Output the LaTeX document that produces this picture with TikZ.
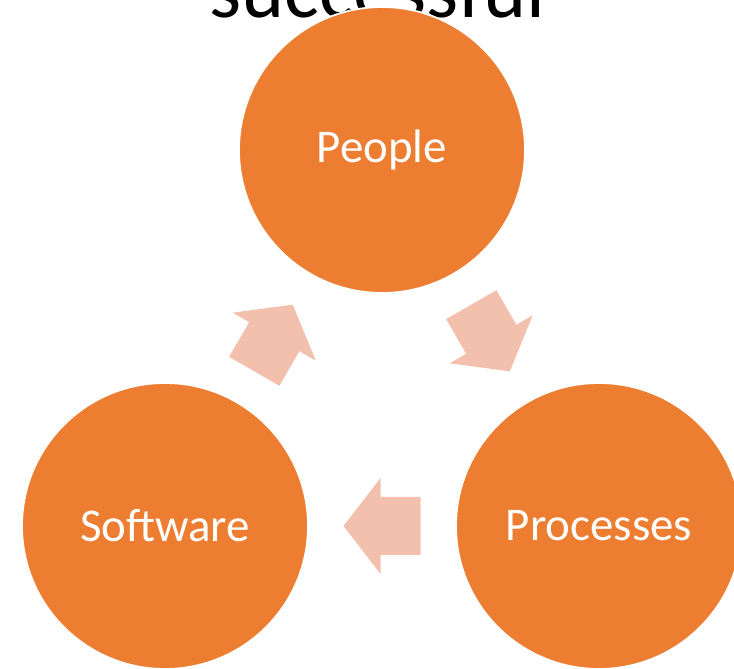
\documentclass[tikz,border=0pt]{standalone}
\usepackage{fontspec}
\setmainfont{Carlito}
\usetikzlibrary{calc}

\definecolor{partfill}{HTML}{ED7D31}
\definecolor{arrowfill}{HTML}{F4C0AE}

% block arrow at a named point, turned by an angle
\newcommand{\blockarrow}[2]{%
  \fill[arrowfill, shift={(#1)}, rotate=#2]
    (-38.5,-29) -- (1.5,-29) -- (1.5,-48) -- (38.5,0)
    -- (1.5,48) -- (1.5,29) -- (-38.5,29) -- cycle;}

\begin{document}
\begin{tikzpicture}[x=0.02cm, y=0.02cm,
  part/.style={circle, fill=partfill, draw=white, line width=1pt,
    minimum size=5.72cm, inner sep=0pt, text=white,
    font=\fontsize{26.7}{32}\selectfont},
  title/.style={anchor=base west, inner sep=0pt, text=black,
    font=\fontsize{46.7}{56}\selectfont}]

\useasboundingbox (0,0) rectangle (734,669);
\clip (0,0) rectangle (734,669);

\node[title] (heading) at (209,651) {successful};

\coordinate (cpeople) at (382,519);
\coordinate (csoftware) at (165,143);
\coordinate (cprocesses) at (599,143);

\coordinate (a1) at ($(cpeople)!0.5!(csoftware)$);
\coordinate (a2) at ($(cpeople)!0.5!(cprocesses)$);
\coordinate (a3) at ($(csoftware)!0.5!(cprocesses)$);

\blockarrow{a1}{60}
\blockarrow{a2}{-60}
\blockarrow{a3}{180}

\node[part] (people) at (cpeople) {People};
\node[part] (software) at (csoftware) {Software};
\node[part] (processes) at (cprocesses) {Processes};

\end{tikzpicture}
\end{document}
